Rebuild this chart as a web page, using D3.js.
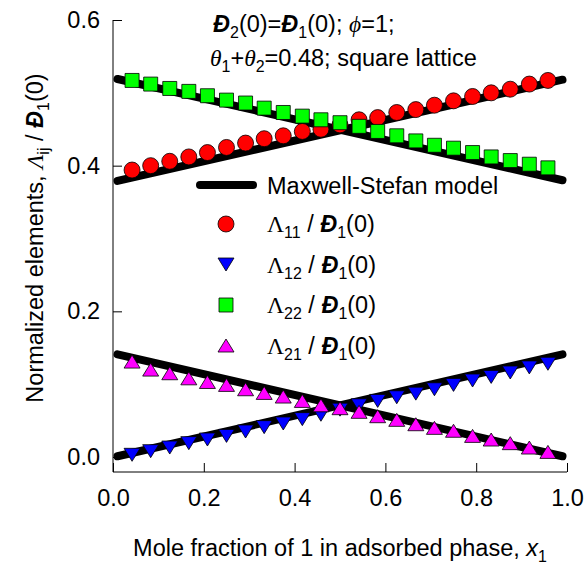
<!DOCTYPE html>
<html>
<head>
<meta charset="utf-8">
<script src="https://cdn.jsdelivr.net/npm/d3@7"></script>
<style>
  body { margin: 0; background: white; }
  svg { font-family: "Liberation Sans", Arial, sans-serif; }
</style>
</head>
<body>
<div id="chart"></div>
<script>
// mole fraction x1 of the simulation points
const xVals = [0.042, 0.083, 0.125, 0.167, 0.208, 0.25, 0.292, 0.333, 0.375, 0.417, 0.458, 0.5,
    0.542, 0.583, 0.625, 0.667, 0.708, 0.75, 0.792, 0.833, 0.875, 0.917, 0.958];

// Lambda_ij / D1(0)
const lambda11 = [0.394, 0.400, 0.406, 0.412, 0.418, 0.425, 0.431, 0.437, 0.441, 0.447, 0.450, 0.456,
    0.463, 0.466, 0.473, 0.477, 0.483, 0.489, 0.495, 0.500, 0.505, 0.512, 0.517];
const lambda12 = [0.003, 0.008, 0.013, 0.019, 0.024, 0.029, 0.035, 0.041, 0.046, 0.052, 0.058, 0.065,
    0.071, 0.077, 0.082, 0.087, 0.093, 0.099, 0.105, 0.110, 0.116, 0.123, 0.128];
const lambda22 = [0.517, 0.512, 0.506, 0.502, 0.496, 0.490, 0.486, 0.479, 0.473, 0.468, 0.463, 0.459,
    0.454, 0.447, 0.441, 0.434, 0.428, 0.424, 0.418, 0.412, 0.407, 0.402, 0.397];
const lambda21 = [0.131, 0.120, 0.115, 0.108, 0.103, 0.099, 0.093, 0.088, 0.083, 0.077, 0.071, 0.067,
    0.062, 0.056, 0.051, 0.045, 0.040, 0.036, 0.029, 0.024, 0.019, 0.013, 0.007];

// Maxwell-Stefan model lines (straight)
const msX = [0.01, 0.99];
const ms11 = [0.379, 0.518];
const ms22 = [0.519, 0.380];
const ms12 = [0.001, 0.141];
const ms21 = [0.141, 0.001];

const xTickLabels = [0, 0.2, 0.4, 0.6, 0.8, 1.0];
const yTickLabels = [0, 0.2, 0.4, 0.6];

const width = 588, height = 565;
const svg = d3.select("#chart").append("svg")
    .attr("width", width)
    .attr("height", height);

const x = d3.scaleLinear().domain([0, 1]).range([113, 567]);
const y = d3.scaleLinear().domain([0, 0.6]).range([457, 20]);
const axisY = 472;
const fs = 23.5;

// helper for text with italic / serif / subscript pieces
function addRich(sel, parts) {
    let shift = 0;
    parts.forEach(p => {
        const ts = sel.append("tspan").text(p.t);
        const want = p.sub ? 6 : 0;
        if (want !== shift) {
            ts.attr("dy", want - shift);
            shift = want;
        }
        if (p.sub) ts.attr("font-size", "0.68em");
        if (p.it) ts.attr("font-style", "italic");
        if (p.b) ts.attr("font-weight", "bold");
        if (p.serif) ts.attr("font-family", "'Liberation Serif', serif");
    });
}

// axes: minor ticks every 0.04, major every 0.2, all pointing inward
const minorX = d3.range(0, 26).map(i => i * 0.04);
const minorY = d3.range(0, 16).map(i => i * 0.04);

const gx = svg.append("g").attr("transform", `translate(0,${axisY})`);
gx.call(d3.axisBottom(x).tickValues(minorX).tickSize(-6).tickFormat(""));
gx.call(d3.axisBottom(x).tickValues(xTickLabels).tickSize(-9).tickPadding(17)
    .tickFormat(d3.format(".1f")));
gx.selectAll(".domain").remove();

const gy = svg.append("g").attr("transform", `translate(${x(0)},0)`);
gy.call(d3.axisLeft(y).tickValues(minorY).tickSize(-6).tickFormat(""));
gy.call(d3.axisLeft(y).tickValues(yTickLabels).tickSize(-9).tickPadding(13)
    .tickFormat(d3.format(".1f")));
gy.selectAll(".domain").remove();

svg.selectAll(".tick text")
    .attr("font-size", fs)
    .attr("font-family", "'Liberation Sans', Arial, sans-serif")
    .attr("fill", "black");
svg.selectAll(".tick line").attr("stroke", "black");

svg.append("line")
    .attr("x1", x(0)).attr("x2", x(1))
    .attr("y1", axisY).attr("y2", axisY)
    .attr("stroke", "black");
svg.append("line")
    .attr("x1", x(0)).attr("x2", x(0))
    .attr("y1", y(0.6)).attr("y2", axisY)
    .attr("stroke", "black");

// model lines
const line = d3.line().x(d => x(d[0])).y(d => y(d[1]));
[ms11, ms22, ms12, ms21].forEach(vals => {
    svg.append("path")
        .datum(msX.map((v, i) => [v, vals[i]]))
        .attr("fill", "none")
        .attr("stroke", "black")
        .attr("stroke-width", 8)
        .attr("stroke-linecap", "round")
        .attr("d", line);
});

// marker shapes
const shapes = {
    circle: "M0,-8A8,8 0 1,1 0,8A8,8 0 1,1 0,-8Z",
    down: "M-8,-6.5L8,-6.5L0,6.5Z",
    square: "M-7,-7L7,-7L7,7L-7,7Z",
    up: "M-8,6.5L8,6.5L0,-6.5Z"
};

const series = [
    { vals: lambda11, shape: "circle", color: "#ff0000", sub: "11" },
    { vals: lambda12, shape: "down", color: "#0000ff", sub: "12" },
    { vals: lambda22, shape: "square", color: "#00ff00", sub: "22" },
    { vals: lambda21, shape: "up", color: "#ff00ff", sub: "21" }
];

series.forEach(s => {
    svg.append("g").selectAll("path")
        .data(s.vals)
        .join("path")
        .attr("d", shapes[s.shape])
        .attr("transform", (d, i) => `translate(${x(xVals[i])},${y(d)})`)
        .attr("fill", s.color)
        .attr("stroke", "black")
        .attr("stroke-width", 0.8);
});

// legend
const legend = svg.append("g");
legend.append("line")
    .attr("x1", 200).attr("x2", 253)
    .attr("y1", 185).attr("y2", 185)
    .attr("stroke", "black")
    .attr("stroke-width", 8)
    .attr("stroke-linecap", "round");
legend.append("text")
    .attr("x", 267).attr("y", 194)
    .attr("font-size", fs)
    .text("Maxwell-Stefan model");

series.forEach((s, i) => {
    const ly = 224 + i * 40.5;
    legend.append("path")
        .attr("d", shapes[s.shape])
        .attr("transform", `translate(226,${ly})`)
        .attr("fill", s.color)
        .attr("stroke", "black")
        .attr("stroke-width", 0.8);
    const t = legend.append("text")
        .attr("x", 267).attr("y", ly + 8)
        .attr("font-size", fs);
    addRich(t, [
        { t: "Λ", serif: true },
        { t: s.sub, sub: true },
        { t: " / " },
        { t: "Đ", it: true, b: true },
        { t: "1", sub: true },
        { t: "(0)" }
    ]);
});

// annotation
const note1 = svg.append("text").attr("x", 213).attr("y", 32).attr("font-size", fs);
addRich(note1, [
    { t: "Đ", it: true, b: true }, { t: "2", sub: true }, { t: "(0)=" },
    { t: "Đ", it: true, b: true }, { t: "1", sub: true }, { t: "(0); " },
    { t: "ϕ", it: true, serif: true }, { t: "=1;" }
]);
const note2 = svg.append("text").attr("x", 210).attr("y", 66).attr("font-size", fs);
addRich(note2, [
    { t: "θ", it: true, serif: true }, { t: "1", sub: true }, { t: "+" },
    { t: "θ", it: true, serif: true }, { t: "2", sub: true }, { t: "=0.48; square lattice" }
]);

// axis titles
const xt = svg.append("text")
    .attr("x", 340).attr("y", 556)
    .attr("text-anchor", "middle")
    .attr("font-size", fs);
addRich(xt, [
    { t: "Mole fraction of 1 in adsorbed phase, " },
    { t: "x", it: true }, { t: "1", sub: true }
]);

const yt = svg.append("text")
    .attr("transform", "translate(43,238) rotate(-90)")
    .attr("text-anchor", "middle")
    .attr("font-size", fs);
addRich(yt, [
    { t: "Normalized elements, " },
    { t: "Λ", it: true, serif: true }, { t: "ij", sub: true },
    { t: " / " },
    { t: "Đ", it: true, b: true }, { t: "1", sub: true }, { t: "(0)" }
]);
</script>
</body>
</html>
